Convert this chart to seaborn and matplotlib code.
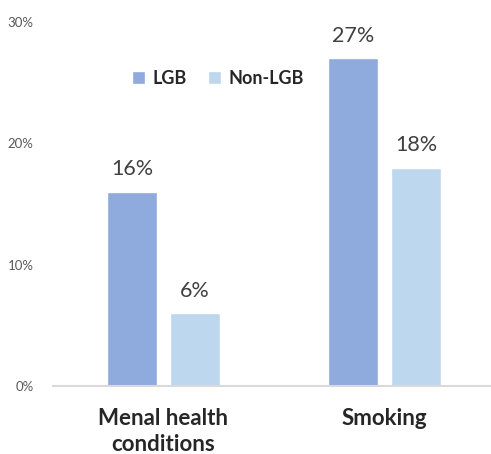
import pandas as pd
import seaborn as sns
import matplotlib.pyplot as plt
from matplotlib.ticker import FuncFormatter

categorias = ['Menal health\nconditions', 'Smoking']
grupos = ['LGB', 'Non-LGB']
lgb = [16, 27]
non_lgb = [6, 18]
colores = ['#8FAADC', '#BDD7EE']

df = pd.DataFrame({
    'categoria': categorias * 2,
    'grupo': [grupos[0]] * 2 + [grupos[1]] * 2,
    'valor': lgb + non_lgb,
})

sns.set_style('white')
plt.rcParams['font.family'] = ['Lato', 'DejaVu Sans']

fig = plt.figure(figsize=(4.91, 4.54), dpi=100)
ax = fig.add_axes([53 / 491, 68 / 454, 442 / 491, 364 / 454])

sns.barplot(data=df, x='categoria', y='valor', hue='grupo', palette=colores,
            saturation=1, width=0.57, gap=0.22, ax=ax, legend=True)

for cont in ax.containers:
    ax.bar_label(cont, fmt='%g%%', padding=9, fontsize=15.5, color='#404040')

ax.set_xlim(-0.5, 1.5)
ax.set_ylim(0, 30)
ax.set_yticks([0, 10, 20, 30])
ax.yaxis.set_major_formatter(FuncFormatter(lambda v, p: f'{v:.0f}%'))
ax.tick_params(axis='y', labelsize=9.5, labelcolor='#595959', length=0, pad=14)
ax.tick_params(axis='x', labelsize=16, length=0, pad=16)
for lab in ax.get_xticklabels():
    lab.set_fontweight('bold')
    lab.set_verticalalignment('top')
    lab.set_linespacing(1.3)
ax.set_xlabel('')
ax.set_ylabel('')

sns.despine(ax=ax, left=True, top=True, right=True)
ax.spines['bottom'].set_color('#D9D9D9')
ax.spines['bottom'].set_linewidth(1.5)

handles, labels = ax.get_legend_handles_labels()
ax.get_legend().remove()
fig.legend(handles, labels, loc='center', bbox_to_anchor=(218 / 491, 1 - 78 / 454),
           ncol=2, frameon=False, handlelength=0.7, handleheight=0.7,
           handletextpad=0.4, columnspacing=1.2,
           prop={'weight': 'bold', 'size': 13})

fig.savefig('out.png', dpi=100)
plt.close(fig)
